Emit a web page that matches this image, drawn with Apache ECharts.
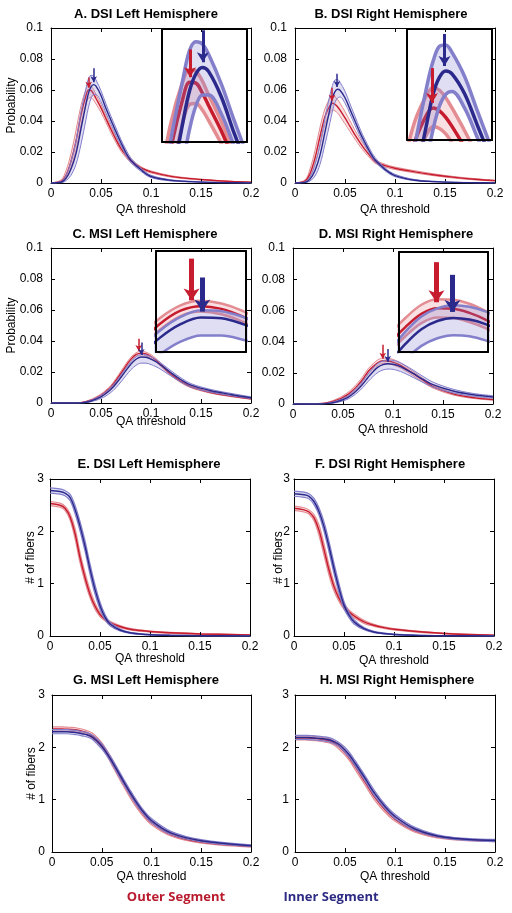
<!DOCTYPE html>
<html><head><meta charset="utf-8">
<script src="https://cdn.jsdelivr.net/npm/echarts@6/dist/echarts.min.js"></script>
<style>html,body{margin:0;padding:0;background:#fff}#c{width:512px;height:913px}</style>
</head><body><div id="c"></div>
<script>
// ---------------- DATA ----------------
const xDSI = [0, 0.01, 0.015, 0.02, 0.025, 0.03, 0.035, 0.0375, 0.04, 0.0425, 0.045, 0.05, 0.055, 0.06, 0.065, 0.07, 0.075, 0.08, 0.09, 0.1, 0.12, 0.14, 0.16, 0.18, 0.2];
const xMSI = [0, 0.02, 0.03, 0.035, 0.04, 0.045, 0.05, 0.055, 0.06, 0.065, 0.07, 0.075, 0.08, 0.085, 0.09, 0.095, 0.1, 0.105, 0.11, 0.12, 0.13, 0.14, 0.16, 0.18, 0.2];
const xCount = [0, 0.01, 0.015, 0.02, 0.025, 0.03, 0.035, 0.04, 0.045, 0.05, 0.055, 0.06, 0.07, 0.08, 0.09, 0.1, 0.12, 0.15, 0.2];

// A. DSI Left (probability)
const A_innerMean  = [0, 0.0005, 0.003, 0.009, 0.019, 0.035, 0.051, 0.058, 0.062, 0.0635, 0.0625, 0.0565, 0.048, 0.0405, 0.033, 0.026, 0.0195, 0.0145, 0.0085, 0.0042, 0.0017, 0.0009, 0.0004, 0.0002, 0.0001];
const A_innerUpper = [0, 0.001, 0.005, 0.014, 0.027, 0.046, 0.061, 0.0675, 0.0695, 0.069, 0.0665, 0.0595, 0.051, 0.043, 0.0355, 0.028, 0.0215, 0.016, 0.0095, 0.005, 0.0021, 0.0011, 0.0005, 0.0003, 0.0001];
const A_innerLower = [0, 0.0002, 0.0015, 0.005, 0.012, 0.025, 0.041, 0.049, 0.0545, 0.057, 0.057, 0.0525, 0.045, 0.038, 0.0305, 0.024, 0.0178, 0.013, 0.0075, 0.0035, 0.0013, 0.0007, 0.0003, 0.0001, 0];
const A_outerMean  = [0, 0.001, 0.005, 0.014, 0.027, 0.044, 0.0565, 0.060, 0.0598, 0.0575, 0.0545, 0.0485, 0.0415, 0.0345, 0.028, 0.0222, 0.0178, 0.0143, 0.0097, 0.0072, 0.0043, 0.0028, 0.0018, 0.001, 0.0005];
const A_outerUpper = [0, 0.002, 0.008, 0.019, 0.034, 0.050, 0.0605, 0.063, 0.0626, 0.0603, 0.057, 0.0507, 0.0434, 0.0362, 0.0296, 0.0238, 0.0191, 0.0154, 0.0105, 0.0078, 0.0047, 0.0031, 0.002, 0.0011, 0.0006];
const A_outerLower = [0, 0.0005, 0.003, 0.010, 0.021, 0.037, 0.051, 0.0548, 0.0550, 0.0535, 0.051, 0.0455, 0.039, 0.0322, 0.026, 0.0205, 0.0164, 0.0131, 0.0088, 0.0065, 0.0038, 0.0024, 0.0015, 0.0008, 0.0004];

// B. DSI Right (probability)
const B_innerMean  = [0, 0.0004, 0.0025, 0.008, 0.018, 0.033, 0.048, 0.055, 0.059, 0.0605, 0.0598, 0.055, 0.0475, 0.040, 0.0325, 0.026, 0.020, 0.015, 0.0088, 0.0048, 0.0018, 0.0009, 0.0004, 0.0002, 0.0001];
const B_innerUpper = [0, 0.0008, 0.004, 0.012, 0.025, 0.042, 0.057, 0.063, 0.0665, 0.0668, 0.065, 0.0592, 0.051, 0.043, 0.035, 0.028, 0.0218, 0.0165, 0.0098, 0.0056, 0.0022, 0.0011, 0.0005, 0.0003, 0.0001];
const B_innerLower = [0, 0.0002, 0.0013, 0.0045, 0.012, 0.025, 0.039, 0.0465, 0.052, 0.0548, 0.0555, 0.0515, 0.0445, 0.0372, 0.0302, 0.0242, 0.0185, 0.0137, 0.0079, 0.0041, 0.0015, 0.0007, 0.0003, 0.0001, 0];
const B_outerMean  = [0, 0.0012, 0.006, 0.016, 0.030, 0.043, 0.050, 0.0515, 0.0508, 0.0492, 0.047, 0.042, 0.0365, 0.031, 0.026, 0.0215, 0.0176, 0.0140, 0.0112, 0.0095, 0.0072, 0.0052, 0.0036, 0.0024, 0.0015];
const B_outerUpper = [0, 0.002, 0.009, 0.021, 0.036, 0.048, 0.0548, 0.0565, 0.0558, 0.054, 0.0515, 0.046, 0.040, 0.034, 0.0285, 0.0236, 0.0193, 0.0152, 0.0121, 0.0103, 0.0079, 0.0058, 0.0041, 0.0028, 0.0018];
const B_outerLower = [0, 0.0006, 0.004, 0.012, 0.024, 0.038, 0.0452, 0.047, 0.0465, 0.0452, 0.043, 0.0382, 0.0332, 0.0282, 0.0237, 0.0196, 0.016, 0.0128, 0.0103, 0.0087, 0.0065, 0.0046, 0.0031, 0.002, 0.0012];

// C. MSI Left (probability)
const C_outerMean  = [0, 0, 0.0002, 0.0008, 0.0018, 0.0032, 0.005, 0.0074, 0.0103, 0.0145, 0.0192, 0.0240, 0.0283, 0.0312, 0.0322, 0.0316, 0.0300, 0.0276, 0.0245, 0.0185, 0.0138, 0.0104, 0.0068, 0.0045, 0.0027];
const C_outerUpper = [0, 0, 0.0003, 0.0011, 0.0023, 0.0039, 0.0058, 0.0084, 0.0115, 0.0158, 0.0206, 0.0254, 0.0296, 0.0324, 0.0334, 0.0328, 0.0312, 0.0287, 0.0255, 0.0193, 0.0145, 0.0110, 0.0073, 0.0049, 0.0030];
const C_outerLower = [0, 0, 0.0001, 0.0005, 0.0013, 0.0025, 0.0042, 0.0064, 0.0091, 0.0132, 0.0178, 0.0226, 0.0270, 0.0300, 0.0310, 0.0304, 0.0288, 0.0265, 0.0235, 0.0177, 0.0131, 0.0098, 0.0063, 0.0041, 0.0024];
const C_innerMean  = [0, 0, 0.0001, 0.0005, 0.0013, 0.0025, 0.0040, 0.0061, 0.0088, 0.0124, 0.0166, 0.0210, 0.0252, 0.0282, 0.0297, 0.0295, 0.0283, 0.0266, 0.0244, 0.0195, 0.0150, 0.0115, 0.0079, 0.0055, 0.0034];
const C_innerUpper = [0, 0, 0.0002, 0.0008, 0.0018, 0.0032, 0.0050, 0.0073, 0.0102, 0.0139, 0.0182, 0.0226, 0.0268, 0.0298, 0.0313, 0.0311, 0.0299, 0.0281, 0.0258, 0.0208, 0.0162, 0.0125, 0.0087, 0.0062, 0.0040];
const C_innerLower = [0, 0, 0, 0.0002, 0.0008, 0.0017, 0.0029, 0.0046, 0.0069, 0.0099, 0.0137, 0.0177, 0.0215, 0.0243, 0.0257, 0.0257, 0.0248, 0.0234, 0.0216, 0.0174, 0.0134, 0.0102, 0.0069, 0.0047, 0.0028];

// D. MSI Right (probability)
const D_outerMean  = [0, 0, 0.0003, 0.0008, 0.0016, 0.0028, 0.0043, 0.0062, 0.0088, 0.0121, 0.0160, 0.0207, 0.0240, 0.0266, 0.0277, 0.0276, 0.0268, 0.0255, 0.0238, 0.0196, 0.0152, 0.0112, 0.0065, 0.0041, 0.0028];
const D_outerUpper = [0, 0, 0.0005, 0.0012, 0.0022, 0.0036, 0.0053, 0.0075, 0.0103, 0.0138, 0.0178, 0.0225, 0.0258, 0.0284, 0.0295, 0.0294, 0.0286, 0.0272, 0.0254, 0.0210, 0.0164, 0.0122, 0.0072, 0.0046, 0.0032];
const D_outerLower = [0, 0, 0.0001, 0.0005, 0.0011, 0.0021, 0.0034, 0.0050, 0.0074, 0.0105, 0.0143, 0.0189, 0.0222, 0.0248, 0.0259, 0.0258, 0.0250, 0.0238, 0.0222, 0.0182, 0.0140, 0.0102, 0.0058, 0.0036, 0.0024];
const D_innerMean  = [0, 0, 0.0001, 0.0004, 0.0009, 0.0017, 0.0028, 0.0043, 0.0066, 0.0095, 0.0130, 0.0170, 0.0207, 0.0236, 0.0252, 0.0258, 0.0255, 0.0246, 0.0232, 0.0196, 0.0158, 0.0124, 0.0083, 0.0059, 0.0045];
const D_innerUpper = [0, 0, 0.0002, 0.0006, 0.0013, 0.0023, 0.0036, 0.0054, 0.0080, 0.0112, 0.0150, 0.0192, 0.0231, 0.0261, 0.0277, 0.0283, 0.0280, 0.0271, 0.0256, 0.0218, 0.0177, 0.0140, 0.0095, 0.0068, 0.0053];
const D_innerLower = [0, 0, 0, 0.0002, 0.0005, 0.0011, 0.0020, 0.0032, 0.0051, 0.0076, 0.0107, 0.0143, 0.0176, 0.0203, 0.0218, 0.0224, 0.0222, 0.0214, 0.0202, 0.0171, 0.0138, 0.0108, 0.0071, 0.0050, 0.0037];

// E. DSI Left (# of fibers)
const E_innerMean  = [2.78, 2.76, 2.73, 2.65, 2.42, 2.10, 1.72, 1.28, 0.89, 0.58, 0.36, 0.23, 0.115, 0.06, 0.038, 0.025, 0.012, 0.005, 0.001];
const E_innerUpper = [2.83, 2.81, 2.78, 2.71, 2.50, 2.19, 1.82, 1.38, 0.98, 0.65, 0.41, 0.265, 0.135, 0.072, 0.046, 0.030, 0.015, 0.006, 0.0015];
const E_innerLower = [2.73, 2.71, 2.68, 2.59, 2.34, 2.01, 1.62, 1.18, 0.80, 0.51, 0.31, 0.195, 0.095, 0.048, 0.030, 0.020, 0.009, 0.004, 0.0005];
const E_outerMean  = [2.53, 2.50, 2.44, 2.28, 1.96, 1.50, 1.12, 0.80, 0.57, 0.41, 0.32, 0.255, 0.18, 0.13, 0.105, 0.085, 0.06, 0.04, 0.02];
const E_outerUpper = [2.57, 2.54, 2.48, 2.34, 2.06, 1.60, 1.21, 0.88, 0.63, 0.45, 0.35, 0.28, 0.20, 0.145, 0.117, 0.095, 0.068, 0.046, 0.024];
const E_outerLower = [2.49, 2.46, 2.40, 2.22, 1.86, 1.40, 1.03, 0.73, 0.51, 0.37, 0.29, 0.23, 0.16, 0.115, 0.093, 0.075, 0.052, 0.034, 0.016];

// F. DSI Right (# of fibers)
const F_innerMean  = [2.72, 2.70, 2.67, 2.57, 2.38, 2.09, 1.71, 1.29, 0.91, 0.59, 0.40, 0.27, 0.14, 0.077, 0.048, 0.030, 0.015, 0.006, 0.001];
const F_innerUpper = [2.77, 2.75, 2.72, 2.63, 2.45, 2.18, 1.81, 1.39, 1.00, 0.66, 0.45, 0.31, 0.16, 0.09, 0.056, 0.036, 0.018, 0.008, 0.0015];
const F_innerLower = [2.67, 2.65, 2.62, 2.51, 2.31, 2.00, 1.61, 1.19, 0.82, 0.52, 0.35, 0.23, 0.12, 0.064, 0.040, 0.024, 0.012, 0.004, 0.0005];
const F_outerMean  = [2.44, 2.41, 2.37, 2.26, 2.02, 1.65, 1.26, 0.94, 0.72, 0.56, 0.46, 0.385, 0.27, 0.205, 0.16, 0.128, 0.09, 0.05, 0.015];
const F_outerUpper = [2.48, 2.45, 2.41, 2.32, 2.12, 1.76, 1.36, 1.02, 0.78, 0.61, 0.50, 0.42, 0.30, 0.225, 0.176, 0.141, 0.10, 0.056, 0.018];
const F_outerLower = [2.40, 2.37, 2.33, 2.20, 1.92, 1.54, 1.16, 0.86, 0.66, 0.51, 0.42, 0.35, 0.24, 0.185, 0.144, 0.115, 0.08, 0.044, 0.012];

// G. MSI Left (# of fibers)
const G_innerMean  = [2.30, 2.30, 2.30, 2.29, 2.28, 2.26, 2.24, 2.20, 2.12, 2.02, 1.89, 1.74, 1.41, 1.09, 0.81, 0.60, 0.36, 0.215, 0.12];
const G_innerUpper = [2.34, 2.34, 2.34, 2.33, 2.32, 2.30, 2.28, 2.24, 2.17, 2.07, 1.94, 1.79, 1.46, 1.14, 0.85, 0.64, 0.39, 0.235, 0.135];
const G_innerLower = [2.26, 2.26, 2.26, 2.25, 2.24, 2.22, 2.20, 2.16, 2.07, 1.97, 1.84, 1.69, 1.36, 1.04, 0.77, 0.56, 0.33, 0.195, 0.105];
const G_outerMean  = [2.35, 2.35, 2.345, 2.34, 2.33, 2.31, 2.28, 2.23, 2.15, 2.04, 1.90, 1.73, 1.38, 1.05, 0.77, 0.56, 0.33, 0.19, 0.11];
const G_outerUpper = [2.39, 2.39, 2.385, 2.38, 2.37, 2.35, 2.32, 2.28, 2.20, 2.09, 1.95, 1.79, 1.44, 1.11, 0.82, 0.60, 0.36, 0.21, 0.125];
const G_outerLower = [2.31, 2.31, 2.305, 2.30, 2.29, 2.27, 2.24, 2.18, 2.10, 1.99, 1.85, 1.67, 1.32, 0.99, 0.72, 0.52, 0.30, 0.17, 0.095];

// H. MSI Right (# of fibers)
const H_innerMean  = [2.19, 2.19, 2.185, 2.18, 2.17, 2.16, 2.14, 2.10, 2.04, 1.95, 1.84, 1.70, 1.41, 1.11, 0.87, 0.68, 0.44, 0.28, 0.22];
const H_innerUpper = [2.23, 2.23, 2.225, 2.22, 2.21, 2.20, 2.18, 2.14, 2.08, 2.00, 1.89, 1.75, 1.46, 1.16, 0.91, 0.72, 0.47, 0.30, 0.24];
const H_innerLower = [2.15, 2.15, 2.145, 2.14, 2.13, 2.12, 2.10, 2.06, 2.00, 1.90, 1.79, 1.65, 1.36, 1.06, 0.83, 0.64, 0.41, 0.26, 0.20];
const H_outerMean  = [2.18, 2.18, 2.175, 2.17, 2.16, 2.14, 2.12, 2.07, 2.00, 1.90, 1.78, 1.64, 1.34, 1.04, 0.81, 0.63, 0.41, 0.27, 0.215];
const H_outerUpper = [2.22, 2.22, 2.215, 2.21, 2.20, 2.18, 2.16, 2.11, 2.05, 1.95, 1.83, 1.70, 1.40, 1.10, 0.86, 0.67, 0.44, 0.29, 0.23];
const H_outerLower = [2.14, 2.14, 2.135, 2.13, 2.12, 2.10, 2.08, 2.03, 1.95, 1.85, 1.73, 1.58, 1.28, 0.98, 0.76, 0.59, 0.38, 0.25, 0.20];

// Peak arrows: [x, yStart, yEnd]
const A_arrows = {outer: [0.0377, 0.0680, 0.0615], inner: [0.0427, 0.0740, 0.0650]};
const B_arrows = {outer: [0.037, 0.0615, 0.0530], inner: [0.042, 0.0705, 0.0620]};
const C_arrows = {outer: [0.0877, 0.0415, 0.0335], inner: [0.0903, 0.0390, 0.0310]};
const D_arrows = {outer: [0.0897, 0.0380, 0.0290], inner: [0.0947, 0.0352, 0.0270]};
const A_insetArrows = {outer: [0.0377, 0.0677, 0.0612], inner: [0.0427, 0.0722, 0.0647]};
const B_insetArrows = {outer: [0.037, 0.0612, 0.0527], inner: [0.042, 0.0695, 0.0617]};
const C_insetArrows = {outer: [0.0877, 0.0428, 0.0335], inner: [0.0903, 0.0386, 0.0310]};
const D_insetArrows = {outer: [0.0897, 0.0368, 0.0289], inner: [0.0947, 0.0343, 0.0270]};

// Inset zoom windows [min, max]
const A_insetX = [0.0267, 0.060], A_insetY = [0.046, 0.0725];
const B_insetX = [0.027, 0.061],  B_insetY = [0.0437, 0.0707];
const C_insetX = [0.079, 0.101],  C_insetY = [0.022, 0.0445];
const D_insetX = [0.078, 0.1058], D_insetY = [0.0191, 0.0388];

const titles = ['A. DSI Left Hemisphere', 'B. DSI Right Hemisphere', 'C. MSI Left Hemisphere', 'D. MSI Right Hemisphere',
                'E. DSI Left Hemisphere', 'F. DSI Right Hemisphere', 'G. MSI Left Hemisphere', 'H. MSI Right Hemisphere'];
const xTicks = [0, 0.05, 0.1, 0.15, 0.2];
const probTicks = [0, 0.02, 0.04, 0.06, 0.08, 0.1];
const countTicks = [0, 1, 2, 3];
const legendNames = ['Outer Segment', 'Inner Segment'];

// ---------------- STYLE / LAYOUT ----------------
const COL = {
  outer: {mean: '#c61c2e', edge: '#e38c92', fill: 'rgba(232,140,146,0.26)'},
  inner: {mean: '#2b2a8c', edge: '#837fcb', fill: 'rgba(130,126,210,0.26)'}
};
const FONT = 'Liberation Sans, Arial, Helvetica, sans-serif';

const panels = [
  {x: xDSI, outer: [A_outerLower, A_outerMean, A_outerUpper], inner: [A_innerLower, A_innerMean, A_innerUpper], prob: true, arrows: A_arrows,
   inset: {x: A_insetX, y: A_insetY, arrows: A_insetArrows}},
  {x: xDSI, outer: [B_outerLower, B_outerMean, B_outerUpper], inner: [B_innerLower, B_innerMean, B_innerUpper], prob: true, arrows: B_arrows,
   inset: {x: B_insetX, y: B_insetY, arrows: B_insetArrows}},
  {x: xMSI, outer: [C_outerLower, C_outerMean, C_outerUpper], inner: [C_innerLower, C_innerMean, C_innerUpper], prob: true, arrows: C_arrows,
   inset: {x: C_insetX, y: C_insetY, arrows: C_insetArrows}},
  {x: xMSI, outer: [D_outerLower, D_outerMean, D_outerUpper], inner: [D_innerLower, D_innerMean, D_innerUpper], prob: true, arrows: D_arrows,
   inset: {x: D_insetX, y: D_insetY, arrows: D_insetArrows}},
  {x: xCount, outer: [E_outerLower, E_outerMean, E_outerUpper], inner: [E_innerLower, E_innerMean, E_innerUpper], prob: false},
  {x: xCount, outer: [F_outerLower, F_outerMean, F_outerUpper], inner: [F_innerLower, F_innerMean, F_innerUpper], prob: false},
  {x: xCount, outer: [G_outerLower, G_outerMean, G_outerUpper], inner: [G_innerLower, G_innerMean, G_innerUpper], prob: false},
  {x: xCount, outer: [H_outerLower, H_outerMean, H_outerUpper], inner: [H_innerLower, H_innerMean, H_innerUpper], prob: false}
];

const layout = [
  {grid: [51, 28, 200, 155], title: [146, 14], yName: 'Probability', yGap: 33, yMargin: 8, xGap: 21, inset: [162, 29, 85, 113], iw: {edge: 3.5, mean: 3.5, arrow: 3, head: [9, 10]}},
  {grid: [295, 28, 200, 155], title: [391, 14], yName: '', yGap: 0, yMargin: 8, xGap: 21, inset: [407, 29, 85, 111], iw: {edge: 3.5, mean: 3.5, arrow: 3, head: [9, 10]}},
  {grid: [51, 248, 200, 155], title: [145, 234], yName: 'Probability', yGap: 33, yMargin: 8, xGap: 13, inset: [156, 251, 90, 101], iw: {edge: 2.5, mean: 2.5, arrow: 5, head: [12, 12]}},
  {grid: [293, 248, 200, 156], title: [396, 234], yName: '', yGap: 0, yMargin: 8, xGap: 20, inset: [399, 252, 89, 100], iw: {edge: 2.5, mean: 2.5, arrow: 5, head: [12, 12]}},
  {grid: [50, 479, 200, 157], title: [149, 464], yName: '# of fibers', yGap: 13, yMargin: 6, xGap: 17},
  {grid: [294, 479, 200, 157], title: [390, 464], yName: '# of fibers', yGap: 9, yMargin: 4, xGap: 19},
  {grid: [52, 695, 199, 157], title: [146, 680], yName: '# of fibers', yGap: 14, yMargin: 7, xGap: 19},
  {grid: [295, 695, 200, 157], title: [397, 680], yName: '', yGap: 0, yMargin: 6, xGap: 19}
];
const legendPos = [[176, 897], [331, 897]];
const legendColors = ['#b91b2e', '#2c2a82'];

// ---------------- BUILD ----------------
const grids = [], xAxes = [], yAxes = [], series = [], graphics = [];
const fmt = v => String(+(+v).toFixed(3));
const SM = 0.35;

function mainX(gi, pos, labels, gap) {
  const a = {
    type: 'value', gridIndex: gi, position: pos, min: xTicks[0], max: xTicks[xTicks.length - 1],
    interval: xTicks[1] - xTicks[0],
    axisLine: {show: true, onZero: false, lineStyle: {color: '#000', width: 1}},
    axisTick: {show: true, inside: true, length: 4, lineStyle: {color: '#000', width: 1}},
    axisLabel: {show: labels, color: '#000', fontSize: 12, fontFamily: FONT, margin: 5, formatter: fmt,
                showMinLabel: true, showMaxLabel: true},
    splitLine: {show: false}, z: 4
  };
  if (labels) {
    a.name = 'QA threshold'; a.nameLocation = 'middle'; a.nameGap = gap; a.nameMoveOverlap = false;
    a.nameTextStyle = {color: '#000', fontSize: 12, fontFamily: FONT};
  }
  return a;
}
function mainY(gi, pos, labels, ticks, name, gap, margin) {
  const a = {
    type: 'value', gridIndex: gi, position: pos, min: ticks[0], max: ticks[ticks.length - 1],
    interval: ticks[1] - ticks[0],
    axisLine: {show: true, onZero: false, lineStyle: {color: '#000', width: 1}},
    axisTick: {show: true, inside: true, length: 4, lineStyle: {color: '#000', width: 1}},
    axisLabel: {show: labels, color: '#000', fontSize: 12, fontFamily: FONT, margin: margin || 7, formatter: fmt,
                showMinLabel: true, showMaxLabel: true},
    splitLine: {show: false}, z: 4
  };
  if (labels && name) {
    a.name = name; a.nameLocation = 'middle'; a.nameGap = gap; a.nameMoveOverlap = false;
    a.nameTextStyle = {color: '#000', fontSize: 12, fontFamily: FONT};
  }
  return a;
}
function insetAxis(gi, pos, range) {
  return {
    type: 'value', gridIndex: gi, position: pos, min: range[0], max: range[1],
    axisLine: {show: true, onZero: false, lineStyle: {color: '#000', width: 2}},
    axisTick: {show: false}, axisLabel: {show: false}, splitLine: {show: false}, z: 20
  };
}

let stackN = 0;
function addGroup(xi, yi, xs, arr, c, st, z) {
  const lo = arr[0], me = arr[1], up = arr[2];
  const sid = 'band' + (stackN++);
  // band: value column first so the stack acts on y; x is mapped via encode
  series.push({type: 'line', xAxisIndex: xi, yAxisIndex: yi, stack: sid, symbol: 'none', smooth: SM, silent: true, z: z,
    encode: {x: 1, y: 0},
    data: xs.map((x, k) => [lo[k], x]), lineStyle: {color: c.edge, width: st.edge}});
  series.push({type: 'line', xAxisIndex: xi, yAxisIndex: yi, stack: sid, symbol: 'none', smooth: SM, silent: true, z: z,
    encode: {x: 1, y: 0},
    data: xs.map((x, k) => [up[k] - lo[k], x]), lineStyle: {color: c.edge, width: st.edge},
    areaStyle: {color: c.fill, opacity: 1}});
  const m = {type: 'line', xAxisIndex: xi, yAxisIndex: yi, symbol: 'none', smooth: SM, silent: true, z: z + 1,
    data: xs.map((x, k) => [x, me[k]]), lineStyle: {color: c.mean, width: st.mean}};
  if (st.arrowData) {
    const a = st.arrowData;
    m.markLine = {silent: true, z: z + 8, symbol: ['none', 'arrow'], symbolSize: st.head, label: {show: false},
      lineStyle: {color: c.mean, width: st.arrow, type: 'solid', opacity: 1}, emphasis: {disabled: true}, animation: false,
      data: [[{coord: [a[0], a[1]]}, {coord: [a[0], a[2]]}]]};
  }
  series.push(m);
}

panels.forEach((p, i) => {
  const L = layout[i];
  const gi = grids.length;
  grids.push({left: L.grid[0], top: L.grid[1], width: L.grid[2], height: L.grid[3], show: false, containLabel: false, outerBoundsMode: 'none'});
  const xi = xAxes.length, yi = yAxes.length;
  xAxes.push(mainX(gi, 'bottom', true, L.xGap));
  xAxes.push(mainX(gi, 'top', false));
  const ticks = p.prob ? probTicks : countTicks;
  yAxes.push(mainY(gi, 'left', true, ticks, L.yName, L.yGap, L.yMargin));
  yAxes.push(mainY(gi, 'right', false, ticks));
  const mw = p.prob ? {edge: 1, mean: 1.4, arrow: 1.5, head: [5, 6]} : {edge: 1.2, mean: 1.5};
  addGroup(xi, yi, p.x, p.outer, COL.outer, Object.assign({}, mw, {arrowData: p.arrows && p.arrows.outer}), 2);
  addGroup(xi, yi, p.x, p.inner, COL.inner, Object.assign({}, mw, {arrowData: p.arrows && p.arrows.inner}), 4);
  graphics.push({type: 'text', x: L.title[0], y: L.title[1], z: 20,
    style: {text: titles[i], fill: '#000', font: 'bold 13px ' + FONT, textAlign: 'center', textVerticalAlign: 'middle'}});

  if (p.inset) {
    const ig = grids.length;
    grids.push({left: L.inset[0], top: L.inset[1], width: L.inset[2], height: L.inset[3], show: true,
      backgroundColor: '#fff', borderWidth: 0, containLabel: false, outerBoundsMode: 'none', z: 1});
    const ixi = xAxes.length, iyi = yAxes.length;
    xAxes.push(insetAxis(ig, 'bottom', p.inset.x));
    xAxes.push(insetAxis(ig, 'top', p.inset.x));
    yAxes.push(insetAxis(ig, 'left', p.inset.y));
    yAxes.push(insetAxis(ig, 'right', p.inset.y));
    const iw = L.iw;
    addGroup(ixi, iyi, p.x, p.outer, COL.outer, {edge: iw.edge, mean: iw.mean, arrow: iw.arrow, head: iw.head, arrowData: p.inset.arrows.outer}, 6);
    addGroup(ixi, iyi, p.x, p.inner, COL.inner, {edge: iw.edge, mean: iw.mean, arrow: iw.arrow, head: iw.head, arrowData: p.inset.arrows.inner}, 8);
  }
});

legendNames.forEach((n, i) => {
  graphics.push({type: 'text', x: legendPos[i][0], y: legendPos[i][1], z: 20,
    style: {text: n, fill: legendColors[i], font: 'bold 13px "Open Sans", sans-serif', textAlign: 'center', textVerticalAlign: 'middle'}});
});

const chart = echarts.init(document.getElementById('c'), null, {renderer: 'canvas', width: 512, height: 913});
chart.setOption({
  animation: false,
  backgroundColor: '#fff',
  grid: grids, xAxis: xAxes, yAxis: yAxes, series: series, graphic: graphics
});
</script>
</body></html>
